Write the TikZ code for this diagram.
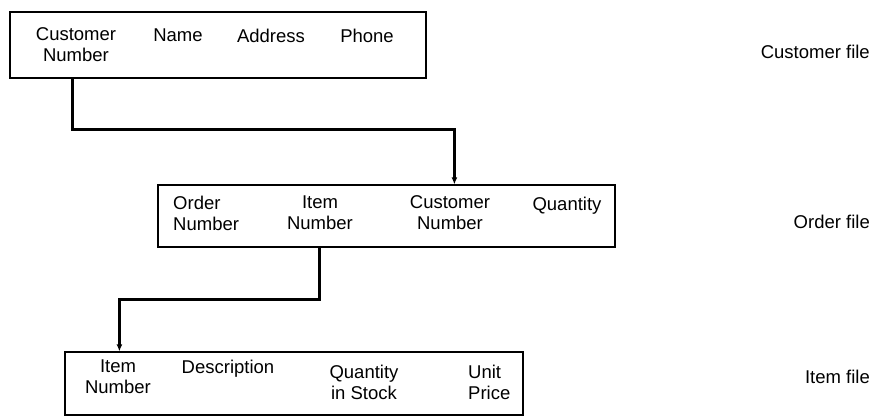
\documentclass[tikz,border=0pt]{standalone}
\usepackage{fontspec}
\setmainfont{Liberation Sans}
\usetikzlibrary{arrows.meta,calc}
\begin{document}
\begin{tikzpicture}[x=1pt,y=-1pt,
  font=\fontsize{18.5}{21}\selectfont,
  box/.style={draw=black,line width=1.2pt,inner sep=0pt},
  fld/.style={inner sep=0pt,anchor=north,align=center},
  fldl/.style={inner sep=0pt,anchor=north west,align=left},
  lbl/.style={inner sep=0pt,anchor=east},
  conn/.style={draw=black,line width=2.2pt},
  tip/.style={-{Latex[length=7pt,width=6pt]}}]
\useasboundingbox (0,0) rectangle (872,419);
% boxes
\node[box,minimum width=416pt,minimum height=66pt] (cust) at (218,45) {};
\node[box,minimum width=457pt,minimum height=62pt] (ord) at (386.5,216) {};
\node[box,minimum width=458pt,minimum height=63pt] (item) at (294,383.5) {};
% customer fields
\node[fld] (cnum) at (76,27) {Customer\\Number};
\node[fld] (cname) at (178,28.5) {Name};
\node[fld] (caddr) at (271,28.5) {Address};
\node[fld] (cphone) at (367,28.5) {Phone};
% order fields
\node[fldl] (onum) at (173,195.5) {Order\\Number};
\node[fld] (oitem) at (320,195.5) {Item\\Number};
\node[fld] (ocust) at (450,195.5) {Customer\\Number};
\node[fld] (oqty) at (567,197) {Quantity};
% item fields
\node[fld] (inum) at (118,360) {Item\\Number};
\node[fld] (idesc) at (228,359.5) {Description};
\node[fld] (iqty) at (364,365) {Quantity\\in Stock};
\node[fldl] (iprice) at (468,365) {Unit\\Price};
% right labels
\node[lbl] (lc) at (870,52) {Customer file};
\node[lbl] (lo) at (870,222) {Order file};
\node[lbl] (li) at (870,377) {Item file};
% connectors
\draw[conn,tip] ([xshift=63pt]cust.south west) -- ++(0,51) -| ([xshift=297pt]ord.north west);
\draw[conn,tip] ([xshift=162pt]ord.south west) -- ++(0,52) -| ([xshift=55pt]item.north west);
\end{tikzpicture}
\end{document}
